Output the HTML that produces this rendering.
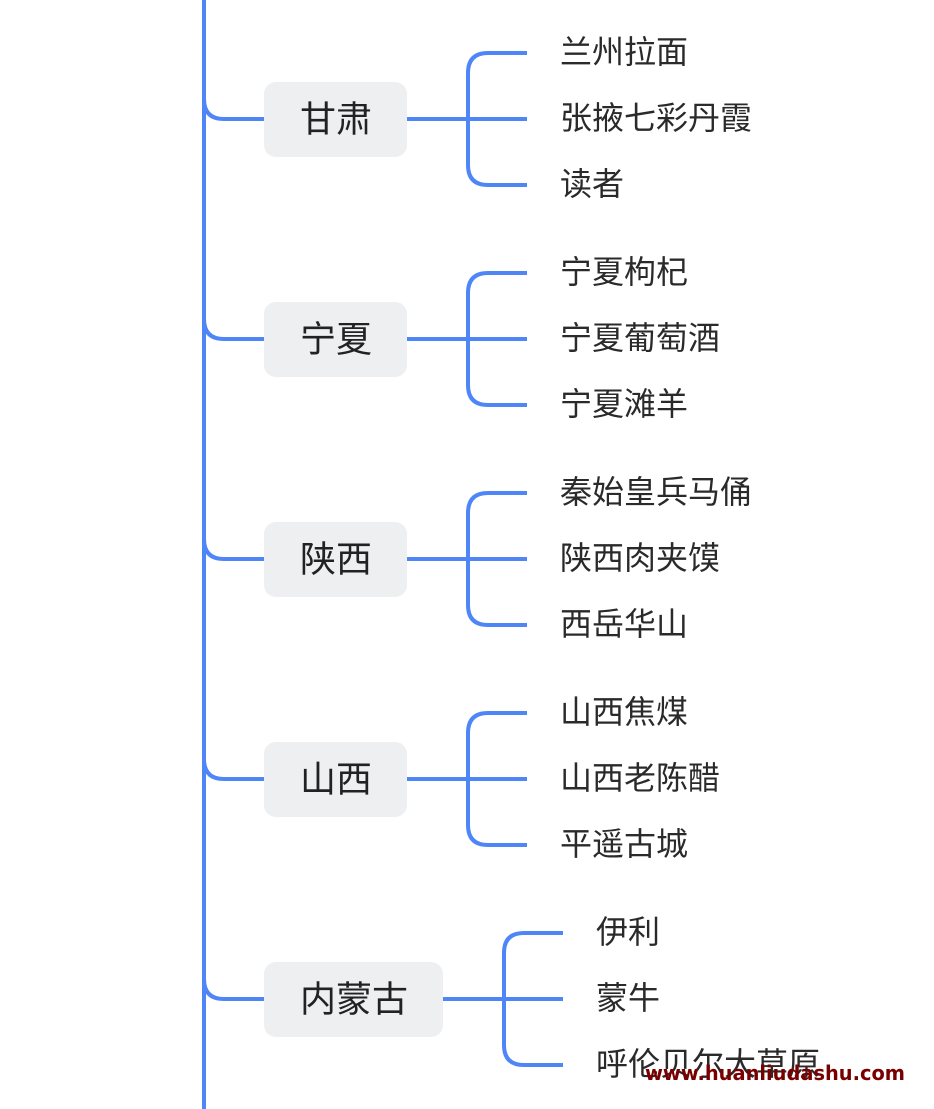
<!DOCTYPE html>
<html><head><meta charset="utf-8"><style>
html,body{margin:0;padding:0;background:#fff;}
svg{display:block;}
.n{font-family:"Liberation Sans","Noto Sans CJK SC",sans-serif;font-size:36px;fill:#222;}
.l{font-family:"Liberation Sans","Noto Sans CJK SC",sans-serif;font-size:32px;fill:#2a2a2a;}
.w{font-family:"DejaVu Sans","Liberation Sans",sans-serif;font-weight:bold;font-size:20px;fill:#7a0000;}
</style></head><body>
<svg width="934" height="1109" viewBox="0 0 934 1109" xmlns="http://www.w3.org/2000/svg">
<g fill="none" stroke="#4f86f7" stroke-width="4">
<line x1="204" y1="0" x2="204" y2="1109"/>
<path d="M204 99 Q204 119 224 119 H264"/>
<path d="M407 119 H527 M527 53 H488 Q468 53 468 73 V165 Q468 185 488 185 H527"/>
<path d="M204 319 Q204 339 224 339 H264"/>
<path d="M407 339 H527 M527 273 H488 Q468 273 468 293 V385 Q468 405 488 405 H527"/>
<path d="M204 539 Q204 559 224 559 H264"/>
<path d="M407 559 H527 M527 493 H488 Q468 493 468 513 V605 Q468 625 488 625 H527"/>
<path d="M204 759 Q204 779 224 779 H264"/>
<path d="M407 779 H527 M527 713 H488 Q468 713 468 733 V825 Q468 845 488 845 H527"/>
<path d="M204 979 Q204 999 224 999 H264"/>
<path d="M443 999 H563 M563 933 H524 Q504 933 504 953 V1045 Q504 1065 524 1065 H563"/>
</g>
<g fill="#eeeff1">
<rect x="264" y="82" width="143" height="75" rx="12"/>
<rect x="264" y="302" width="143" height="75" rx="12"/>
<rect x="264" y="522" width="143" height="75" rx="12"/>
<rect x="264" y="742" width="143" height="75" rx="12"/>
<rect x="264" y="962" width="179" height="75" rx="12"/>
</g>
<g class="n" text-anchor="middle" dominant-baseline="central">
<text x="336" y="119">甘肃</text>
<text x="336" y="339">宁夏</text>
<text x="336" y="559">陕西</text>
<text x="336" y="779">山西</text>
<text x="354" y="999">内蒙古</text>
</g>
<g class="l" dominant-baseline="central">
<text x="560" y="52">兰州拉面</text><text x="560" y="118">张掖七彩丹霞</text><text x="560" y="184">读者</text>
<text x="560" y="272">宁夏枸杞</text><text x="560" y="338">宁夏葡萄酒</text><text x="560" y="404">宁夏滩羊</text>
<text x="560" y="492">秦始皇兵马俑</text><text x="560" y="558">陕西肉夹馍</text><text x="560" y="624">西岳华山</text>
<text x="560" y="712">山西焦煤</text><text x="560" y="778">山西老陈醋</text><text x="560" y="844">平遥古城</text>
<text x="596" y="932">伊利</text><text x="596" y="998">蒙牛</text><text x="596" y="1064">呼伦贝尔大草原</text>
</g>
<text class="w" x="645" y="1080" textLength="260" lengthAdjust="spacingAndGlyphs">www.huanliudashu.com</text>
</svg>
</body></html>
